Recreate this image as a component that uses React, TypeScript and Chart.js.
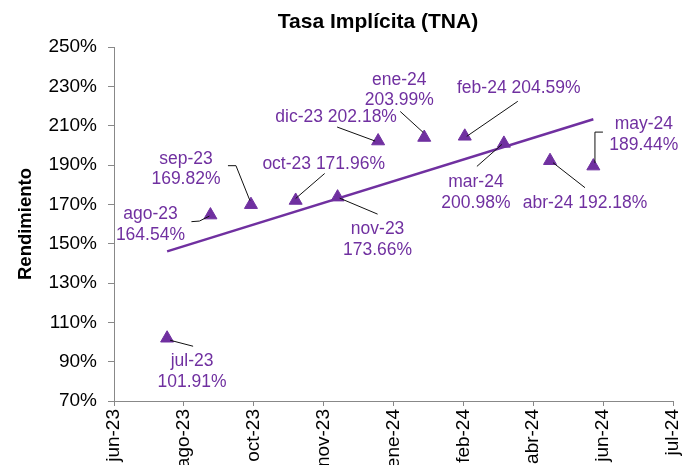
import React, { useEffect, useRef } from "react";
import { Chart, registerables } from "chart.js";

Chart.register(...registerables);

// ---- data ----
const contracts = ["jul-23", "ago-23", "sep-23", "oct-23", "nov-23", "dic-23", "ene-24", "feb-24", "mar-24", "abr-24", "may-24"];
const dates = ["2023-07-31", "2023-08-31", "2023-09-29", "2023-10-31", "2023-11-30", "2023-12-29", "2024-01-31", "2024-02-29", "2024-03-28", "2024-04-30", "2024-05-31"];
const rates = [101.91, 164.54, 169.82, 171.96, 173.66, 202.18, 203.99, 204.59, 200.98, 192.18, 189.44];

const xAxisStart = "2023-06-23";
const xTickStepDays = 50;
const xTickLabels = ["jun-23", "ago-23", "oct-23", "nov-23", "ene-24", "feb-24", "abr-24", "jun-24", "jul-24"];
const yMin = 70;
const yMax = 250;
const yStep = 20;

// label layout (pixel offsets from each point), kept apart from values
const labelLayout = [
  { dx: 25, dy: 32, two: true, leader: [[3, 2], [26, 8]] },
  { dx: -60, dy: 8, two: true, leader: [[-19, 6.6], [-11, 6], [-1, 1]] },
  { dx: -65, dy: -37, two: true, leader: [[-23, -39], [-15, -39], [-1, -4]] },
  { dx: 28, dy: -38, two: false, leader: [[29, -27], [0, -2]] },
  { dx: 40, dy: 41, two: true, leader: [[2, 1], [40, 17]] },
  { dx: -42, dy: -25, two: false, leader: [[-41, -14], [-3, 0]] },
  { dx: -25, dy: -49, two: true, leader: [[-24, -26], [-1, -5]] },
  { dx: 54, dy: -49.5, two: false, leader: [[53, -35], [2, 0]] },
  { dx: -28, dy: 48, two: true, leader: [[-27, 23], [-2, 1]] },
  { dx: 35, dy: 40.5, two: false, leader: [[3, 2], [35, 27]] },
  { dx: 50.5, dy: -33, two: true, leader: [[9.6, -34], [1.6, -34], [1.6, -3]] },
];

const PURPLE = "#7030A0";
const FONT = "'Liberation Sans', Arial, Helvetica, sans-serif";
const DAY = 86400000;

function toDay(s: string): number {
  const [y, m, d] = s.split("-").map(Number);
  return Date.UTC(y, m - 1, d) / DAY;
}

export default function App() {
  const ref = useRef<HTMLCanvasElement | null>(null);

  useEffect(() => {
    const canvas = ref.current;
    if (!canvas) return;

    const xs = dates.map(toDay);
    const points = xs.map((x, i) => ({ x, y: rates[i] }));

    // least-squares linear trendline (as the spreadsheet trendline)
    const n = xs.length;
    const mx = xs.reduce((a, b) => a + b, 0) / n;
    const my = rates.reduce((a, b) => a + b, 0) / n;
    let sxy = 0, sxx = 0;
    for (let i = 0; i < n; i++) {
      sxy += (xs[i] - mx) * (rates[i] - my);
      sxx += (xs[i] - mx) * (xs[i] - mx);
    }
    const slope = sxy / sxx;
    const icpt = my - slope * mx;
    const trend = [xs[0], xs[n - 1]].map((x) => ({ x, y: icpt + slope * x }));

    const xMin = toDay(xAxisStart);
    const tickVals = xTickLabels.map((_, i) => xMin + i * xTickStepDays);
    const xMax = tickVals[tickVals.length - 1];

    const labelPlugin = {
      id: "pointLabels",
      afterDatasetsDraw(chart: any) {
        const ctx = chart.ctx;
        const meta = chart.getDatasetMeta(0);
        ctx.save();
        // title
        ctx.font = `bold 21px ${FONT}`;
        ctx.fillStyle = "#000";
        ctx.textAlign = "center";
        ctx.textBaseline = "alphabetic";
        ctx.fillText("Tasa Implícita (TNA)", 378, 27.5);

        const fs = 17.5;
        ctx.font = `${fs}px ${FONT}`;
        meta.data.forEach((el: any, i: number) => {
          const L = labelLayout[i];
          const px = el.x, py = el.y;
          // leader
          ctx.strokeStyle = "#111";
          ctx.lineWidth = 1;
          ctx.beginPath();
          L.leader.forEach((p, k) => {
            const X = px + p[0], Y = py + p[1];
            if (k === 0) ctx.moveTo(X, Y); else ctx.lineTo(X, Y);
          });
          ctx.stroke();
          // text
          ctx.fillStyle = PURPLE;
          ctx.textAlign = "center";
          ctx.textBaseline = "alphabetic";
          const cx = px + L.dx, cy = py + L.dy;
          const val = rates[i].toFixed(2) + "%";
          const off = fs * 0.36;
          if (L.two) {
            ctx.fillText(contracts[i], cx, cy - 10.25 + off);
            ctx.fillText(val, cx, cy + 10.25 + off);
          } else {
            ctx.fillText(contracts[i] + " " + val, cx, cy + off);
          }
        });
        ctx.restore();
      },
    };

    const chart = new Chart(canvas, {
      type: "scatter",
      data: {
        datasets: [
          {
            type: "scatter",
            data: points,
            pointStyle: "triangle",
            pointRadius: 7.5,
            backgroundColor: PURPLE,
            borderColor: PURPLE,
            borderWidth: 1,
            order: 1,
          } as any,
          {
            type: "line",
            data: trend,
            borderColor: PURPLE,
            borderWidth: 2.5,
            pointRadius: 0,
            fill: false,
            order: 2,
          } as any,
        ],
      },
      options: {
        animation: false,
        responsive: false,
        layout: { padding: { top: 47, right: 10, left: 0, bottom: 0 } },
        plugins: {
          legend: { display: false },
          tooltip: { enabled: false },
          title: { display: false },
        },
        scales: {
          x: {
            type: "linear",
            min: xMin,
            max: xMax,
            afterBuildTicks: (s: any) => {
              s.ticks = tickVals.map((v) => ({ value: v }));
            },
            afterFit: (s: any) => {
              s.height = 64;
              s.paddingLeft = 0;
              s.paddingRight = 0;
            },
            ticks: {
              autoSkip: false,
              maxRotation: 90,
              minRotation: 90,
              padding: 3,
              color: "#000",
              font: { family: FONT, size: 19 },
              callback: (_v: any, i: number) => xTickLabels[i],
            },
            grid: { drawOnChartArea: false, drawTicks: true, tickLength: 5, color: "#888" },
            border: { color: "#888", width: 1 },
          },
          y: {
            type: "linear",
            min: yMin,
            max: yMax,
            afterFit: (s: any) => {
              s.width = 114;
              s.paddingTop = 0;
              s.paddingBottom = 0;
            },
            ticks: {
              stepSize: yStep,
              padding: 11,
              color: "#000",
              font: { family: FONT, size: 19 },
              callback: (v: any) => v + "%",
            },
            grid: { drawOnChartArea: false, drawTicks: true, tickLength: 6, color: "#888" },
            border: { color: "#888", width: 1 },
            title: {
              display: true,
              text: "Rendimiento",
              color: "#000",
              font: { family: FONT, size: 18.5, weight: "bold" },
              padding: { top: 15, bottom: 0 },
            },
          },
        },
      } as any,
      plugins: [labelPlugin],
    });

    return () => chart.destroy();
  }, []);

  return (
    <div style={{ position: "absolute", left: 0, top: 0, width: 683, height: 465, background: "#fff" }}>
      <canvas ref={ref} width={683} height={465} style={{ width: 683, height: 465, display: "block" }} />
    </div>
  );
}
